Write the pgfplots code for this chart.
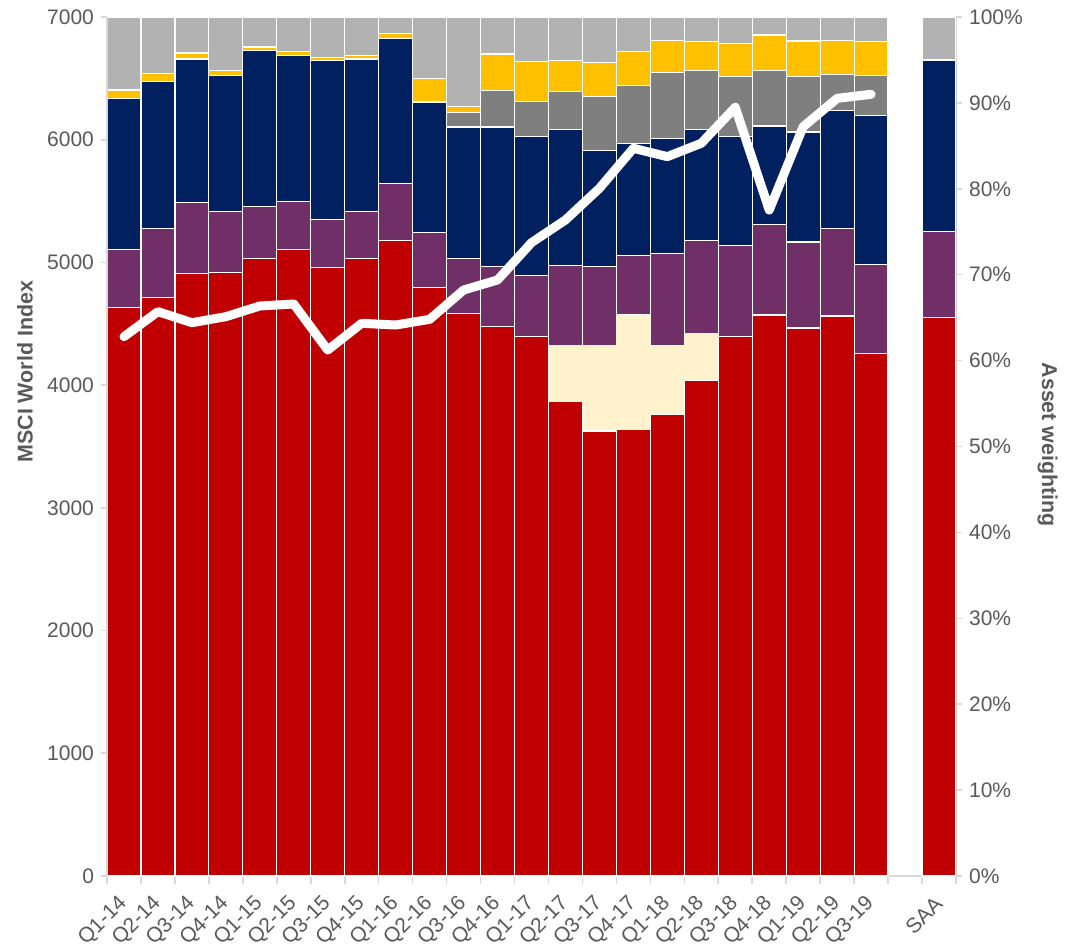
\documentclass[border=0pt]{standalone}
\usepackage{pgfplots}
\usepackage{pgfplotstable}
\pgfplotsset{compat=1.18}
\usepackage{fontspec}
\setmainfont{Liberation Sans}
\definecolor{cred}{HTML}{C00000}
\definecolor{ccream}{HTML}{FFF2CC}
\definecolor{cpurple}{HTML}{702F66}
\definecolor{cnavy}{HTML}{002060}
\definecolor{cdgrey}{HTML}{7F7F7F}
\definecolor{cyellow}{HTML}{FFC000}
\definecolor{clgrey}{HTML}{B2B2B2}
\definecolor{ctext}{HTML}{595959}
\definecolor{caxis}{HTML}{D9D9D9}

\pgfplotstableread{
x red cream purple navy dgrey yellow lgrey
0 66.2 0 6.7 17.6 0 1.0 8.5
1 67.3 0 8.1 17.1 0 0.9 6.6
2 70.1 0 8.3 16.7 0 0.7 4.2
3 70.3 0 7.1 15.8 0 0.6 6.2
4 71.9 0 6.0 18.2 0 0.4 3.5
5 72.9 0 5.6 17.0 0 0.5 4.0
6 70.8 0 5.6 18.5 0 0.4 4.7
7 71.9 0 5.5 17.7 0 0.4 4.5
8 74.0 0 6.6 16.9 0 0.6 1.9
9 68.5 0 6.4 15.2 0 2.7 7.2
10 65.5 0 6.4 15.3 1.7 0.7 10.4
11 64.0 0 7.0 16.2 4.2 4.3 4.3
12 62.8 0 7.1 16.2 4.1 4.6 5.2
13 55.2 6.6 9.3 15.8 4.4 3.6 5.1
14 51.8 10.0 9.2 13.5 6.2 4.0 5.3
15 52.0 13.3 6.9 13.1 6.7 4.0 4.0
16 53.7 8.0 10.8 13.4 7.6 3.8 2.7
17 57.7 5.5 10.8 12.9 6.9 3.3 2.9
18 62.8 0 10.6 12.7 7.0 3.8 3.1
19 65.3 0 10.5 11.5 6.5 4.1 2.1
20 63.8 0 10.0 12.8 6.5 4.1 2.8
21 65.2 0 10.2 13.7 4.2 4.0 2.7
22 60.8 0 10.4 17.3 4.7 3.9 2.9
24 65.0 0 10.0 20.0 0 0 5.0
}\weights

\pgfplotstableread{
x msci
0 4395
1 4599
2 4509
3 4558
4 4645
5 4661
6 4286
7 4504
8 4490
9 4536
10 4775
11 4857
12 5161
13 5346
14 5604
15 5930
16 5862
17 5971
18 6264
19 5427
20 6106
21 6337
22 6370
}\msci

\begin{document}
\begin{tikzpicture}
\path[use as bounding box] (-53.5pt,-35.5pt) rectangle (480.5pt,438pt);
\pgfplotsset{
  common/.style={
    scale only axis, width=424.5pt, height=429.5pt,
    xmin=-0.5, xmax=24.5,
    /pgf/number format/assume math mode=true,
    /pgf/number format/1000 sep={},
    axis line style={caxis, line width=0.8pt},
    tick style={caxis, line width=0.8pt},
    tick align=outside,
    major tick length=3pt,
    ticklabel style={font=\fontsize{10.5}{12}\selectfont, text=ctext},
  }
}
\begin{axis}[common,
  ymin=0, ymax=100,
  axis y line*=right, axis x line*=bottom,
  ybar stacked, bar width=1,
  ytick={0,10,...,100},
  yticklabel={\pgfmathprintnumber{\tick}\%},
  xtick={0,1,2,3,4,5,6,7,8,9,10,11,12,13,14,15,16,17,18,19,20,21,22,24},
  xticklabels={Q1-14,Q2-14,Q3-14,Q4-14,Q1-15,Q2-15,Q3-15,Q4-15,Q1-16,Q2-16,Q3-16,Q4-16,Q1-17,Q2-17,Q3-17,Q4-17,Q1-18,Q2-18,Q3-18,Q4-18,Q1-19,Q2-19,Q3-19,SAA},
  major x tick style={draw=none},
  minor xtick={-0.5,0.5,...,24.5},
  minor tick length=4pt,
  xticklabel style={xshift=2.3pt, yshift=-6.8pt, rotate=45, anchor=east},
  every axis y label/.style={at={(axis description cs:1.108,0.502)}, rotate=-90, anchor=center},
  ylabel={\fontsize{10.7}{12}\selectfont\bfseries Asset weighting},
  ylabel style={text=ctext},
  every axis plot/.append style={draw=white, line width=0.6pt},
]
\addplot[fill=cred] table[x=x, y=red] {\weights};
\addplot[fill=ccream, draw=none] table[x=x, y=cream] {\weights};
\addplot[fill=cpurple] table[x=x, y=purple] {\weights};
\addplot[fill=cnavy] table[x=x, y=navy] {\weights};
\addplot[fill=cdgrey] table[x=x, y=dgrey] {\weights};
\addplot[fill=cyellow] table[x=x, y=yellow] {\weights};
\addplot[fill=clgrey] table[x=x, y=lgrey] {\weights};
\end{axis}
\begin{axis}[common,
  ymin=0, ymax=7000,
  axis y line*=left, axis x line=none,
  ytick={0,1000,...,7000},
  every axis y label/.style={at={(axis description cs:-0.0966,0.587)}, rotate=90, anchor=center},
  ylabel={\fontsize{10.7}{12}\selectfont\bfseries MSCI World Index},
  ylabel style={text=ctext},
]
\addplot[white, line width=4.5pt, line join=round, line cap=round] table[x=x, y=msci] {\msci};
\end{axis}
\end{tikzpicture}
\end{document}
